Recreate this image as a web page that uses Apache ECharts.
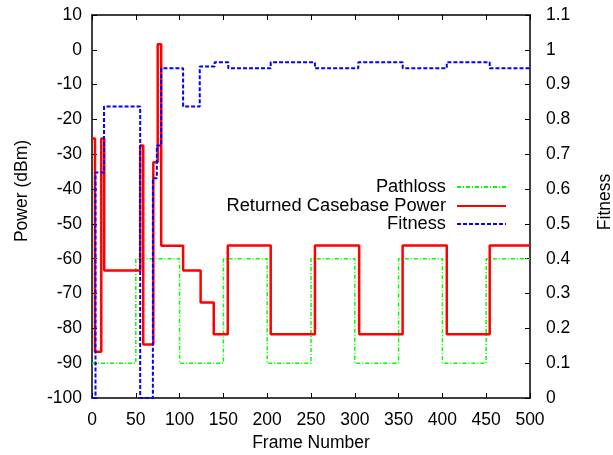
<!DOCTYPE html>
<html>
<head>
<meta charset="utf-8">
<script src="https://cdn.jsdelivr.net/npm/echarts@6/dist/echarts.min.js"></script>
<style>
html,body{margin:0;padding:0;background:#fff;}
#chart{width:613px;height:455px;}
</style>
</head>
<body>
<div id="chart"></div>
<script>
// Frame numbers where each series changes value, and the value from that frame on
const pathlossFrames = [0, 50, 100, 150, 200, 250, 300, 350, 400, 450, 500];
const pathlossValues = [-90, -60, -90, -60, -90, -60, -90, -60, -90, -60, -60];

const powerFrames = [0, 3.4, 10.6, 14, 55, 58.5, 70, 75, 79, 104, 124, 139, 155, 204, 254.5, 305, 354.6, 405, 454, 500];
const powerValues = [-25.5, -86.7, -25.5, -63.4, -27.5, -84.6, -32.3, 1.6, -56.3, -63.4, -72.6, -81.7, -56.2, -81.7, -56.2, -81.7, -56.2, -81.7, -56.2, -56.2];

const fitnessFrames = [0, 4, 13.7, 55, 69.5, 74, 79, 104, 123, 140, 155.6, 204, 254.5, 304, 354.7, 405, 454, 500];
const fitnessValues = [0, 0.648, 0.837, 0, 0.631, 0.725, 0.947, 0.837, 0.952, 0.964, 0.947, 0.964, 0.947, 0.964, 0.947, 0.964, 0.947, 0.947];

const seriesNames = ['Pathloss', 'Returned Casebase Power', 'Fitness'];

const FONT = '"Liberation Sans", Arial, sans-serif';
const FS = 17.5;

function pairs(xs, ys) { return xs.map((x, i) => [x, ys[i]]); }

const chart = echarts.init(document.getElementById('chart'), null, {renderer: 'canvas'});

function legendAt(name, top) {
  return {
    data: [name], right: 106, top: top, orient: 'vertical', align: 'right',
    itemWidth: 49, itemHeight: 10, padding: 0,
    selectedMode: false,
    itemStyle: {opacity: 0},
    textStyle: {fontFamily: FONT, fontSize: 18.3, color: '#000', padding: [0, 6, 0, 0]}
  };
}

const axisLineStyle = {show: true, onZero: false, lineStyle: {color: '#000', width: 1.5}};
const tickStyle = {show: true, inside: true, length: 5, lineStyle: {color: '#000', width: 1}};
const labelStyle = {color: '#000', fontFamily: FONT, fontSize: FS};

chart.setOption({
  animation: false,
  backgroundColor: '#fff',
  grid: {left: 92, right: 83, top: 15, bottom: 57, containLabel: false, outerBoundsMode: 'none'},
  legend: [
    legendAt(seriesNames[0], 178),
    legendAt(seriesNames[1], 197),
    legendAt(seriesNames[2], 215)
  ],
  xAxis: [
    {
      type: 'value', min: 0, max: 500, interval: 50, position: 'bottom',
      name: 'Frame Number', nameLocation: 'middle', nameGap: 32,
      nameTextStyle: {color: '#000', fontFamily: FONT, fontSize: FS},
      axisLine: axisLineStyle, axisTick: tickStyle,
      axisLabel: Object.assign({margin: 13}, labelStyle),
      splitLine: {show: false}
    },
    {
      type: 'value', min: 0, max: 500, interval: 50, position: 'top',
      axisLine: axisLineStyle, axisTick: tickStyle,
      axisLabel: {show: false}, splitLine: {show: false}
    }
  ],
  yAxis: [
    {
      type: 'value', min: -100, max: 10, interval: 10, position: 'left',
      name: 'Power (dBm)', nameLocation: 'middle', nameGap: 61,
      nameTextStyle: {color: '#000', fontFamily: FONT, fontSize: FS, padding: [0, 0, 0, 31]},
      axisLine: axisLineStyle, axisTick: tickStyle,
      axisLabel: Object.assign({margin: 10}, labelStyle),
      splitLine: {show: false}
    },
    {
      type: 'value', min: 0, max: 1.1, interval: 0.1, position: 'right',
      name: 'Fitness', nameLocation: 'middle', nameGap: 66,
      nameTextStyle: {color: '#000', fontFamily: FONT, fontSize: FS, padding: [0, 0, 0, 9]},
      axisLine: axisLineStyle, axisTick: tickStyle,
      axisLabel: Object.assign({margin: 16}, labelStyle),
      splitLine: {show: false}
    }
  ],
  series: [
    {
      name: seriesNames[0], type: 'line', step: 'end', symbol: 'none',
      xAxisIndex: 0, yAxisIndex: 0, z: 2,
      data: pairs(pathlossFrames, pathlossValues),
      itemStyle: {color: '#00ff00'},
      lineStyle: {color: '#00ff00', width: 1.5, type: [4, 2, 1, 2]}
    },
    {
      name: seriesNames[1], type: 'line', step: 'end', symbol: 'none',
      xAxisIndex: 0, yAxisIndex: 0, z: 3,
      data: pairs(powerFrames, powerValues),
      itemStyle: {color: '#ff0000'},
      lineStyle: {color: '#ff0000', width: 2.5, type: 'solid'}
    },
    {
      name: seriesNames[2], type: 'line', step: 'end', symbol: 'none',
      xAxisIndex: 0, yAxisIndex: 1, z: 4,
      data: pairs(fitnessFrames, fitnessValues),
      itemStyle: {color: '#0000ff'},
      lineStyle: {color: '#0000ff', width: 2, type: [4, 2]}
    }
  ]
});
</script>
</body>
</html>
